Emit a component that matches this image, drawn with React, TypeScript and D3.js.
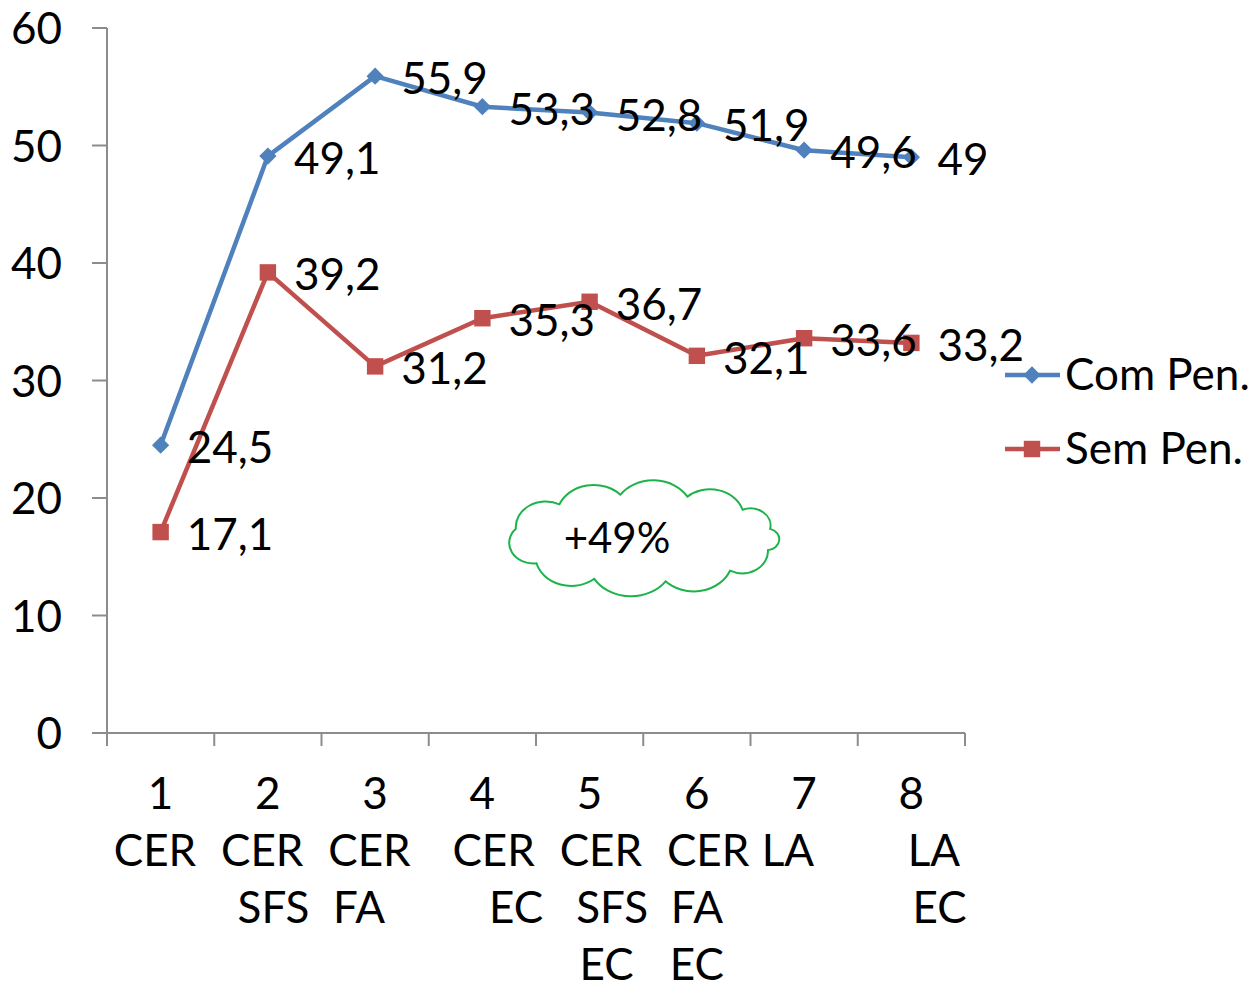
import React from "react";
import * as d3 from "d3";

const categories = ["1", "2", "3", "4", "5", "6", "7", "8"];
// lines of each category label (spaces keep the original wrapping offsets)
const categoryLines: string[][] = [
  ["1", "CER "],
  ["2", "CER ", " SFS"],
  ["3", "CER ", "FA   "],
  ["4", "  CER", "      EC"],
  ["5", "  CER", "    SFS", "   EC"],
  ["6", "  CER", "FA", "EC"],
  ["7", "LA   "],
  ["8", "    LA", "     EC"],
];
const comPen = [24.5, 49.1, 55.9, 53.3, 52.8, 51.9, 49.6, 49];
const semPen = [17.1, 39.2, 31.2, 35.3, 36.7, 32.1, 33.6, 33.2];
const comLabels = ["24,5", "49,1", "55,9", "53,3", "52,8", "51,9", "49,6", "49"];
const semLabels = ["17,1", "39,2", "31,2", "35,3", "36,7", "32,1", "33,6", "33,2"];
const yTicks = [0, 10, 20, 30, 40, 50, 60];
const seriesNames = ["Com Pen.", "Sem Pen."];
const calloutText = "+49%";

const BLUE = "#4F81BD";
const RED = "#C0504D";
const GREEN = "#1DB34B";
const FONT = "Lato, 'Open Sans', sans-serif";
const FS = 44;

export default function App() {
  const W = 1254, H = 986;
  const x = d3.scaleBand<string>().domain(categories).range([107, 965]).padding(0);
  const y = d3.scaleLinear().domain([0, 60]).range([733, 28]);
  const cx = (i: number) => (x(categories[i]) as number) + x.bandwidth() / 2;
  const line = d3.line<number>().x((_, i) => cx(i)).y((d) => y(d));

  // cloud shape
  const ccx = 643, ccy = 538, rx = 130, ry = 44;
  const bumpAngles = [-168, -130, -100, -70, -40, -12, 16, 48, 80, 112, 145];
  const pts = bumpAngles.map((a) => {
    const r = (a * Math.PI) / 180;
    return [ccx + rx * Math.cos(r), ccy + ry * Math.sin(r)];
  });
  let cloud = `M${pts[0][0]},${pts[0][1]}`;
  for (let i = 0; i < pts.length; i++) {
    const p = pts[(i + 1) % pts.length];
    const q = pts[i];
    const chord = Math.hypot(p[0] - q[0], p[1] - q[1]);
    const rr = chord * 0.6;
    cloud += ` A${rr},${rr * 0.85} 0 0 1 ${p[0]},${p[1]}`;
  }
  cloud += "Z";

  const diamond = d3.symbol().type(d3.symbolDiamond2).size(190)();
  const square = d3.symbol().type(d3.symbolSquare).size(270)();

  return (
    <svg width={W} height={H} style={{ display: "block", position: "absolute", left: 0, top: 0 }}>
      <rect width={W} height={H} fill="white" />
      {/* axes */}
      <line x1={107} x2={107} y1={y(60)} y2={y(0)} stroke="#8C8C8C" strokeWidth={2} />
      <line x1={107} x2={965} y1={y(0)} y2={y(0)} stroke="#8C8C8C" strokeWidth={2} />
      {yTicks.map((t) => (
        <g key={t}>
          <line x1={92} x2={107} y1={y(t)} y2={y(t)} stroke="#8C8C8C" strokeWidth={2} />
          <text x={62} y={y(t) + 16} textAnchor="end" fontFamily={FONT} fontSize={FS} fill="#000">
            {t}
          </text>
        </g>
      ))}
      {d3.range(categories.length + 1).map((i) => {
        const xx = 107 + i * x.bandwidth();
        return <line key={i} x1={xx} x2={xx} y1={733} y2={746} stroke="#8C8C8C" strokeWidth={2} />;
      })}
      {categoryLines.map((lines, i) => (
        <g key={i}>
          {lines.map((l, j) => (
            <text
              key={j}
              x={cx(i)}
              y={809 + j * 57}
              textAnchor="middle"
              fontFamily={FONT}
              fontSize={FS}
              fill="#000"
              style={{ whiteSpace: "pre" }}
            >
              {l}
            </text>
          ))}
        </g>
      ))}
      {/* cloud callout */}
      <path d={cloud} fill="white" stroke={GREEN} strokeWidth={2} />
      <text x={617} y={553} textAnchor="middle" fontFamily={FONT} fontSize={FS - 2} fill="#000">
        {calloutText}
      </text>
      {/* series */}
      <path d={line(comPen) || ""} fill="none" stroke={BLUE} strokeWidth={4.5} strokeLinejoin="round" />
      <path d={line(semPen) || ""} fill="none" stroke={RED} strokeWidth={4.5} strokeLinejoin="round" />
      {comPen.map((v, i) => (
        <path key={i} d={diamond || ""} transform={`translate(${cx(i)},${y(v)})`} fill={BLUE} />
      ))}
      {semPen.map((v, i) => (
        <path key={i} d={square || ""} transform={`translate(${cx(i)},${y(v)})`} fill={RED} />
      ))}
      {comPen.map((v, i) => (
        <text key={i} x={cx(i) + 26} y={y(v) + 18} fontFamily={FONT} fontSize={FS} fill="#000">
          {comLabels[i]}
        </text>
      ))}
      {semPen.map((v, i) => (
        <text key={i} x={cx(i) + 26} y={y(v) + 18} fontFamily={FONT} fontSize={FS} fill="#000">
          {semLabels[i]}
        </text>
      ))}
      {/* legend */}
      {seriesNames.map((n, i) => {
        const ly = 375 + i * 74;
        return (
          <g key={n}>
            <line x1={1005} x2={1060} y1={ly} y2={ly} stroke={i === 0 ? BLUE : RED} strokeWidth={4.5} />
            <path
              d={(i === 0 ? diamond : square) || ""}
              transform={`translate(1032,${ly})`}
              fill={i === 0 ? BLUE : RED}
            />
            <text x={1065} y={ly + 15} fontFamily={FONT} fontSize={FS} fill="#000">
              {n}
            </text>
          </g>
        );
      })}
    </svg>
  );
}
